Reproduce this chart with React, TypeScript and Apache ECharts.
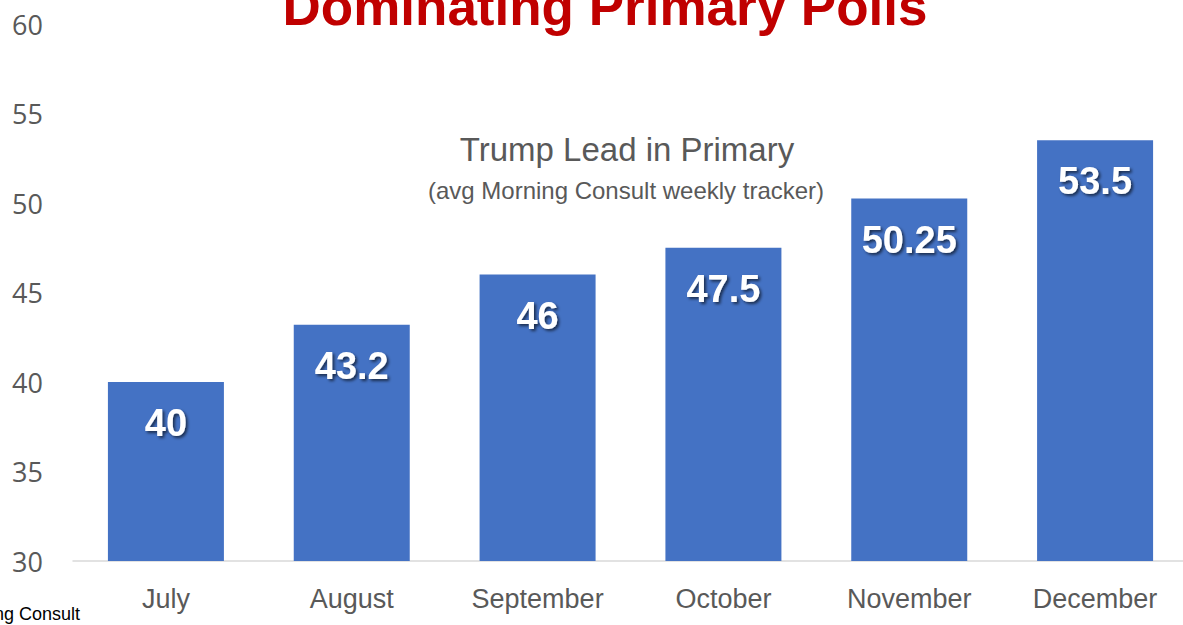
import React, { useEffect, useRef } from "react";
import * as echarts from "echarts";

const categories = ["July", "August", "September", "October", "November", "December"];
const leadValues = [40, 43.2, 46, 47.5, 50.25, 53.5];
const yTicks = { min: 30, max: 60, interval: 5 };
const titleText = "Dominating Primary Polls";
const subtitleText = "Trump Lead in Primary";
const subtitle2Text = "(avg Morning Consult weekly tracker)";
const sourceText = "Source: Morning Consult";

export default function App() {
  const ref = useRef<HTMLDivElement>(null);
  useEffect(() => {
    if (!ref.current) return;
    const chart = echarts.init(ref.current, undefined, { renderer: "svg" });
    chart.setOption({
      animation: false,
      backgroundColor: "#ffffff",
      grid: { left: 73, right: 0, top: 24, bottom: 64, containLabel: false },
      xAxis: {
        type: "category",
        data: categories,
        axisLine: { show: true, lineStyle: { color: "#D9D9D9", width: 1.5 } },
        axisTick: { show: false },
        axisLabel: {
          color: "#595959",
          fontFamily: "Liberation Sans, Arial",
          fontSize: 27,
          margin: 24,
        },
      },
      yAxis: {
        type: "value",
        min: yTicks.min,
        max: yTicks.max,
        interval: yTicks.interval,
        axisLine: { show: false },
        axisTick: { show: false },
        splitLine: { show: false },
        axisLabel: {
          color: "#595959",
          fontFamily: "Open Sans",
          fontSize: 27,
          margin: 30,
        },
      },
      series: [
        {
          type: "bar",
          data: leadValues,
          barWidth: 116,
          itemStyle: { color: "#4472C4" },
          label: {
            show: true,
            position: "insideTop",
            distance: 22,
            color: "#ffffff",
            fontFamily: "Liberation Sans, Arial",
            fontWeight: "bold",
            fontSize: 38,
            textShadowColor: "rgba(0,0,0,0.6)",
            textShadowBlur: 3,
            textShadowOffsetX: 2,
            textShadowOffsetY: 2,
          },
        },
      ],
      graphic: [
        {
          type: "text",
          x: 605,
          y: 6,
          style: {
            text: titleText,
            fill: "#C00000",
            font: "bold 53px 'Liberation Sans', Arial",
            textAlign: "center",
            textVerticalAlign: "middle",
          },
        },
        {
          type: "text",
          x: 627,
          y: 149,
          style: {
            text: subtitleText,
            fill: "#595959",
            font: "33px 'Liberation Sans', Arial",
            textAlign: "center",
            textVerticalAlign: "middle",
          },
        },
        {
          type: "text",
          x: 626,
          y: 190,
          style: {
            text: subtitle2Text,
            fill: "#595959",
            font: "24px 'Liberation Sans', Arial",
            textAlign: "center",
            textVerticalAlign: "middle",
          },
        },
        {
          type: "text",
          x: 80,
          y: 614,
          style: {
            text: sourceText,
            fill: "#000000",
            font: "18px 'Liberation Sans', Arial",
            textAlign: "right",
            textVerticalAlign: "middle",
          },
        },
      ],
    });
    return () => chart.dispose();
  }, []);
  return (
    <div
      ref={ref}
      style={{ position: "fixed", left: 0, top: 0, width: 1188, height: 625 }}
    />
  );
}
